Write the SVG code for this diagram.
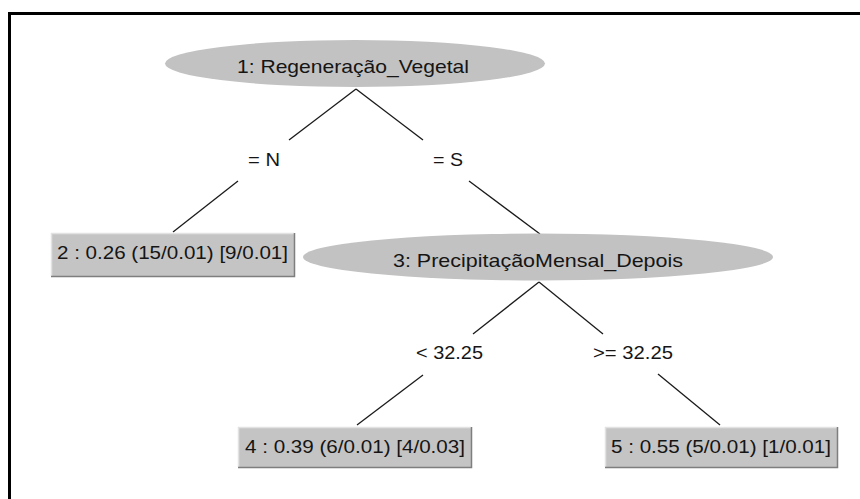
<svg xmlns="http://www.w3.org/2000/svg" width="860" height="499" viewBox="0 0 860 499">
<style>
text{font-family:"Liberation Sans",Arial,sans-serif;font-size:19px;fill:#151515;text-anchor:middle}
.ell{fill:#c2c2c2}
.box{fill:#c4c4c4}
.hi{stroke:#e2e2e2;stroke-width:1.5;fill:none}
.sh{stroke:#7e7e7e;stroke-width:1.5;fill:none}
.edge{stroke:#1a1a1a;stroke-width:1.3;fill:none}
</style>
<rect width="860" height="499" fill="#fff"/>
<path d="M9.5 499 V13.5 H860" fill="none" stroke="#000" stroke-width="3"/>
<g id="connectors">
<line class="edge" x1="356" y1="89" x2="289" y2="140"/>
<line class="edge" x1="238" y1="181" x2="173" y2="232"/>
<line class="edge" x1="356" y1="89" x2="423" y2="140"/>
<line class="edge" x1="469" y1="181" x2="540" y2="234"/>
<line class="edge" x1="539" y1="282" x2="473" y2="334"/>
<line class="edge" x1="423" y1="375" x2="357" y2="425"/>
<line class="edge" x1="539" y1="282" x2="603" y2="334"/>
<line class="edge" x1="658" y1="374" x2="720" y2="425"/>
<text x="264" y="166" textLength="32" lengthAdjust="spacingAndGlyphs">= N</text>
<text x="448" y="166" textLength="30" lengthAdjust="spacingAndGlyphs">= S</text>
<text x="449.5" y="359" textLength="67" lengthAdjust="spacingAndGlyphs">&lt; 32.25</text>
<text x="633" y="359" textLength="80" lengthAdjust="spacingAndGlyphs">&gt;= 32.25</text>
</g>
<g id="node1">
<ellipse class="ell" cx="355" cy="63.5" rx="190" ry="23.5"/>
<text x="353" y="73" textLength="232" lengthAdjust="spacingAndGlyphs">1: Regeneração_Vegetal</text>
</g>
<g id="node2">
<rect class="box" x="51" y="233" width="244" height="44"/>
<path class="hi" d="M51.5 276 V233.5 H294"/>
<path class="sh" d="M51 276.5 H294.5 V233"/>
<text x="172.5" y="259" textLength="231" lengthAdjust="spacingAndGlyphs">2 : 0.26 (15/0.01) [9/0.01]</text>
</g>
<g id="node3">
<ellipse class="ell" cx="538" cy="257" rx="235" ry="23.5"/>
<text x="538" y="267" textLength="290" lengthAdjust="spacingAndGlyphs">3: PrecipitaçãoMensal_Depois</text>
</g>
<g id="node4">
<rect class="box" x="238" y="427" width="234" height="41"/>
<path class="hi" d="M238.5 467 V427.5 H471"/>
<path class="sh" d="M238 467.5 H471.5 V427"/>
<text x="355" y="453" textLength="220" lengthAdjust="spacingAndGlyphs">4 : 0.39 (6/0.01) [4/0.03]</text>
</g>
<g id="node5">
<rect class="box" x="605" y="427" width="233" height="41"/>
<path class="hi" d="M605.5 467 V427.5 H837"/>
<path class="sh" d="M605 467.5 H837.5 V427"/>
<text x="721" y="453" textLength="220" lengthAdjust="spacingAndGlyphs">5 : 0.55 (5/0.01) [1/0.01]</text>
</g>
</svg>
